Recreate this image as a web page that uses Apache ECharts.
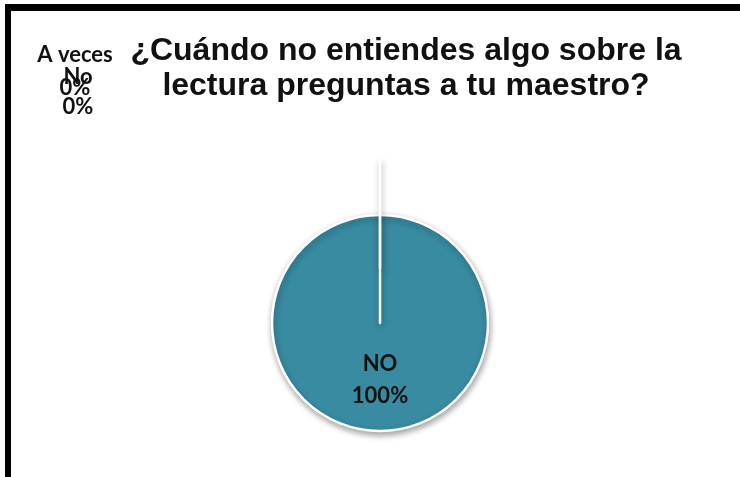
<!DOCTYPE html>
<html>
<head>
<meta charset="utf-8">
<script src="https://cdn.jsdelivr.net/npm/echarts@6/dist/echarts.min.js"></script>
<style>
html,body{margin:0;padding:0;background:#fff;}
#chart{width:740px;height:477px;}
</style>
</head>
<body>
<div id="chart"></div>
<script>
// Data
const titleText = '¿Cuándo no entiendes algo sobre la\nlectura preguntas a tu maestro?';
const categories = ['NO', 'A veces', 'No'];
const values = [100, 0, 0];
const explodedCategory = 'No';

const chart = echarts.init(document.getElementById('chart'));

const cx = 380, cy = 323, radius = 108;
// positions / line heights of the zero-slice label blocks (styling only)
const zeroLabelPos = { 'A veces': [75, 38.5, 33], 'No': [78, 62, 30] };

// Series that draws the slices (no labels)
const sliceData = categories.map((c, i) => ({
  name: c,
  value: values[i],
  selected: c === explodedCategory
}));

// Transparent twin series that carries the labels
const labelData = categories.map((c, i) => {
  const item = { name: c, value: values[i] };
  if (values[i] > 0) {
    item.label = {
      position: 'inside',
      formatter: '{b}\n{d}%',
      fontFamily: 'Lato',
      fontWeight: 'bold',
      fontSize: 22,
      lineHeight: 32,
      color: '#111'
    };
  } else {
    item.label = {
      position: 'outside',
      formatter: '{b}\n{d}%',
      fontFamily: 'Lato',
      fontWeight: 'bold',
      fontSize: 22,
      lineHeight: zeroLabelPos[c][2],
      color: '#111'
    };
    item.labelLine = { show: false };
  }
  return item;
});

chart.setOption({
  animation: false,
  backgroundColor: '#fff',
  title: {
    text: titleText,
    left: 401,
    top: 29,
    textAlign: 'center',
    textStyle: {
      fontFamily: 'Liberation Sans',
      fontWeight: 'bold',
      fontSize: 32,
      lineHeight: 35,
      color: '#111'
    }
  },
  graphic: [
    { type: 'rect', shape: { x: 5, y: 4, width: 740, height: 7 }, style: { fill: '#000' }, silent: true },
    { type: 'rect', shape: { x: 5, y: 4, width: 6, height: 480 }, style: { fill: '#000' }, silent: true }
  ],
  series: [{
    type: 'pie',
    center: [cx, cy],
    radius: radius,
    startAngle: 90,
    clockwise: true,
    selectedMode: 'multiple',
    selectedOffset: 55,
    minAngle: 0,
    label: { show: false },
    labelLine: { show: false },
    itemStyle: {
      color: '#388BA1',
      borderColor: '#fff',
      borderWidth: 2.5,
      shadowBlur: 6,
      shadowColor: 'rgba(0,0,0,0.35)',
      shadowOffsetX: 1,
      shadowOffsetY: 3
    },
    emphasis: { disabled: true },
    data: sliceData
  }, {
    type: 'pie',
    silent: true,
    center: [cx, cy],
    radius: radius,
    startAngle: 90,
    clockwise: true,
    avoidLabelOverlap: false,
    minAngle: 0,
    itemStyle: { color: 'rgba(0,0,0,0)', borderWidth: 0 },
    emphasis: { disabled: true },
    labelLayout: function (params) {
      const name = categories[params.dataIndex];
      const p = zeroLabelPos[name];
      if (p) {
        return { x: p[0], y: p[1], align: 'center', verticalAlign: 'top' };
      }
      return {};
    },
    data: labelData
  }]
});
</script>
</body>
</html>
